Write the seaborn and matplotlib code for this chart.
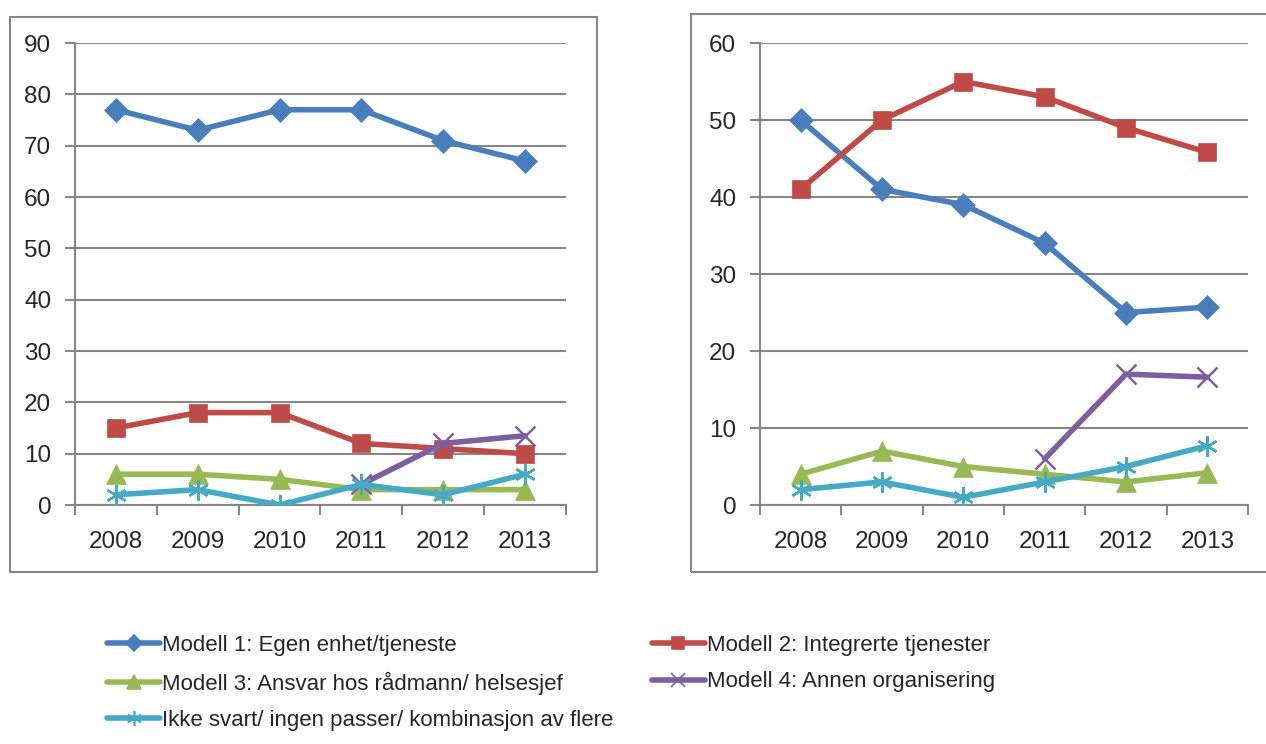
import numpy as np
import pandas as pd
import seaborn as sns
import matplotlib.pyplot as plt
from matplotlib.lines import Line2D
from matplotlib.patches import Rectangle

years = ["2008", "2009", "2010", "2011", "2012", "2013"]

labels = ["Modell 1: Egen enhet/tjeneste",
          "Modell 2: Integrerte tjenester",
          "Modell 3: Ansvar hos rådmann/ helsesjef",
          "Modell 4: Annen organisering",
          "Ikke svart/ ingen passer/ kombinasjon av flere"]

# left panel
left_m1 = [77, 73, 77, 77, 71, 67]
left_m2 = [15, 18, 18, 12, 11, 10]
left_m3 = [6, 6, 5, 3, 3, 3]
left_m4 = [np.nan, np.nan, np.nan, 4, 12, 13.5]
left_m5 = [2, 3, 0, 4, 2, 6]

# right panel
right_m1 = [50, 41, 39, 34, 25, 25.7]
right_m2 = [41, 50, 55, 53, 49, 45.8]
right_m3 = [4, 7, 5, 4, 3, 4.2]
right_m4 = [np.nan, np.nan, np.nan, 6, 17, 16.6]
right_m5 = [2, 3, 1, 3, 5, 7.7]

colors = ["#4A7EBB", "#BE4B48", "#98B954", "#7D5FA0", "#46AAC5"]
markers = ["D", "s", "^", "x", (6, 2, 0)]
msizes = [12, 13, 14, 14, 15]

sns.set_style("white")
plt.rcParams['font.family'] = ['Liberation Sans', 'DejaVu Sans']

grid_c = "#878787"

fig = plt.figure(figsize=(12.66, 7.44), dpi=100)
ax1 = fig.add_axes([0.0592, 0.3212, 0.3878, 0.621])
ax2 = fig.add_axes([0.6003, 0.3212, 0.3855, 0.621])

# chart borders
fig.patches.append(Rectangle((10 / 1266, 1 - 572 / 744), 587 / 1266, 555 / 744,
                             transform=fig.transFigure, fill=False,
                             edgecolor=grid_c, lw=1.5))
fig.patches.append(Rectangle((691 / 1266, 1 - 572 / 744), 600 / 1266, 558 / 744,
                             transform=fig.transFigure, fill=False,
                             edgecolor=grid_c, lw=1.5))


def draw_panel(ax, series, ymax):
    x = np.arange(len(years))
    for i, s in enumerate(series):
        df = pd.DataFrame({"x": x, "y": s}).dropna()
        sns.lineplot(data=df, x="x", y="y", ax=ax, color=colors[i],
                     linewidth=4.0, marker=markers[i], markersize=msizes[i],
                     markeredgecolor=colors[i], markeredgewidth=1.8 if i >= 3 else 0.5,
                     zorder=3 + i)
    ax.set_xlim(-0.5, 5.5)
    ax.set_ylim(0, ymax)
    ax.set_yticks(np.arange(0, ymax + 1, 10))
    ax.set_xticks(np.arange(-0.5, 6, 1))
    ax.set_xticklabels([])
    ax.set_xticks(x, minor=True)
    ax.set_xticklabels(years, minor=True)
    ax.tick_params(axis="x", which="major", direction="out", length=7,
                   width=1.5, color=grid_c, bottom=True)
    ax.tick_params(axis="x", which="minor", length=0, pad=19, labelsize=17.5)
    ax.tick_params(axis="y", direction="out", length=7, width=1.5,
                   color=grid_c, left=True, pad=10, labelsize=17.5)
    ax.grid(axis="y", color=grid_c, linewidth=1.5)
    ax.grid(axis="x", visible=False)
    for sp in ["top", "right"]:
        ax.spines[sp].set_visible(False)
    for sp in ["left", "bottom"]:
        ax.spines[sp].set_color(grid_c)
        ax.spines[sp].set_linewidth(1.5)
    ax.set_xlabel("")
    ax.set_ylabel("")
    ax.set_axisbelow(True)


draw_panel(ax1, [left_m1, left_m2, left_m3, left_m4, left_m5], 90)
draw_panel(ax2, [right_m1, right_m2, right_m3, right_m4, right_m5], 60)

handles = [Line2D([0], [0], color=colors[i], lw=4.0, marker=markers[i],
                  markersize=msizes[i] - 4, markeredgecolor=colors[i],
                  markeredgewidth=1.2) for i in range(5)]
order = [0, 2, 4, 1, 3]
fig.legend([handles[i] for i in order], [labels[i] for i in order],
           ncol=2, loc="upper left", bbox_to_anchor=(98 / 1266, 1 - 626 / 744),
           frameon=False, handlelength=2.4, handletextpad=0.1,
           columnspacing=1.7, labelspacing=0.7, borderaxespad=0,
           prop={"family": ["Liberation Sans", "DejaVu Sans"], "size": 16})

fig.savefig("out.png", dpi=100)
